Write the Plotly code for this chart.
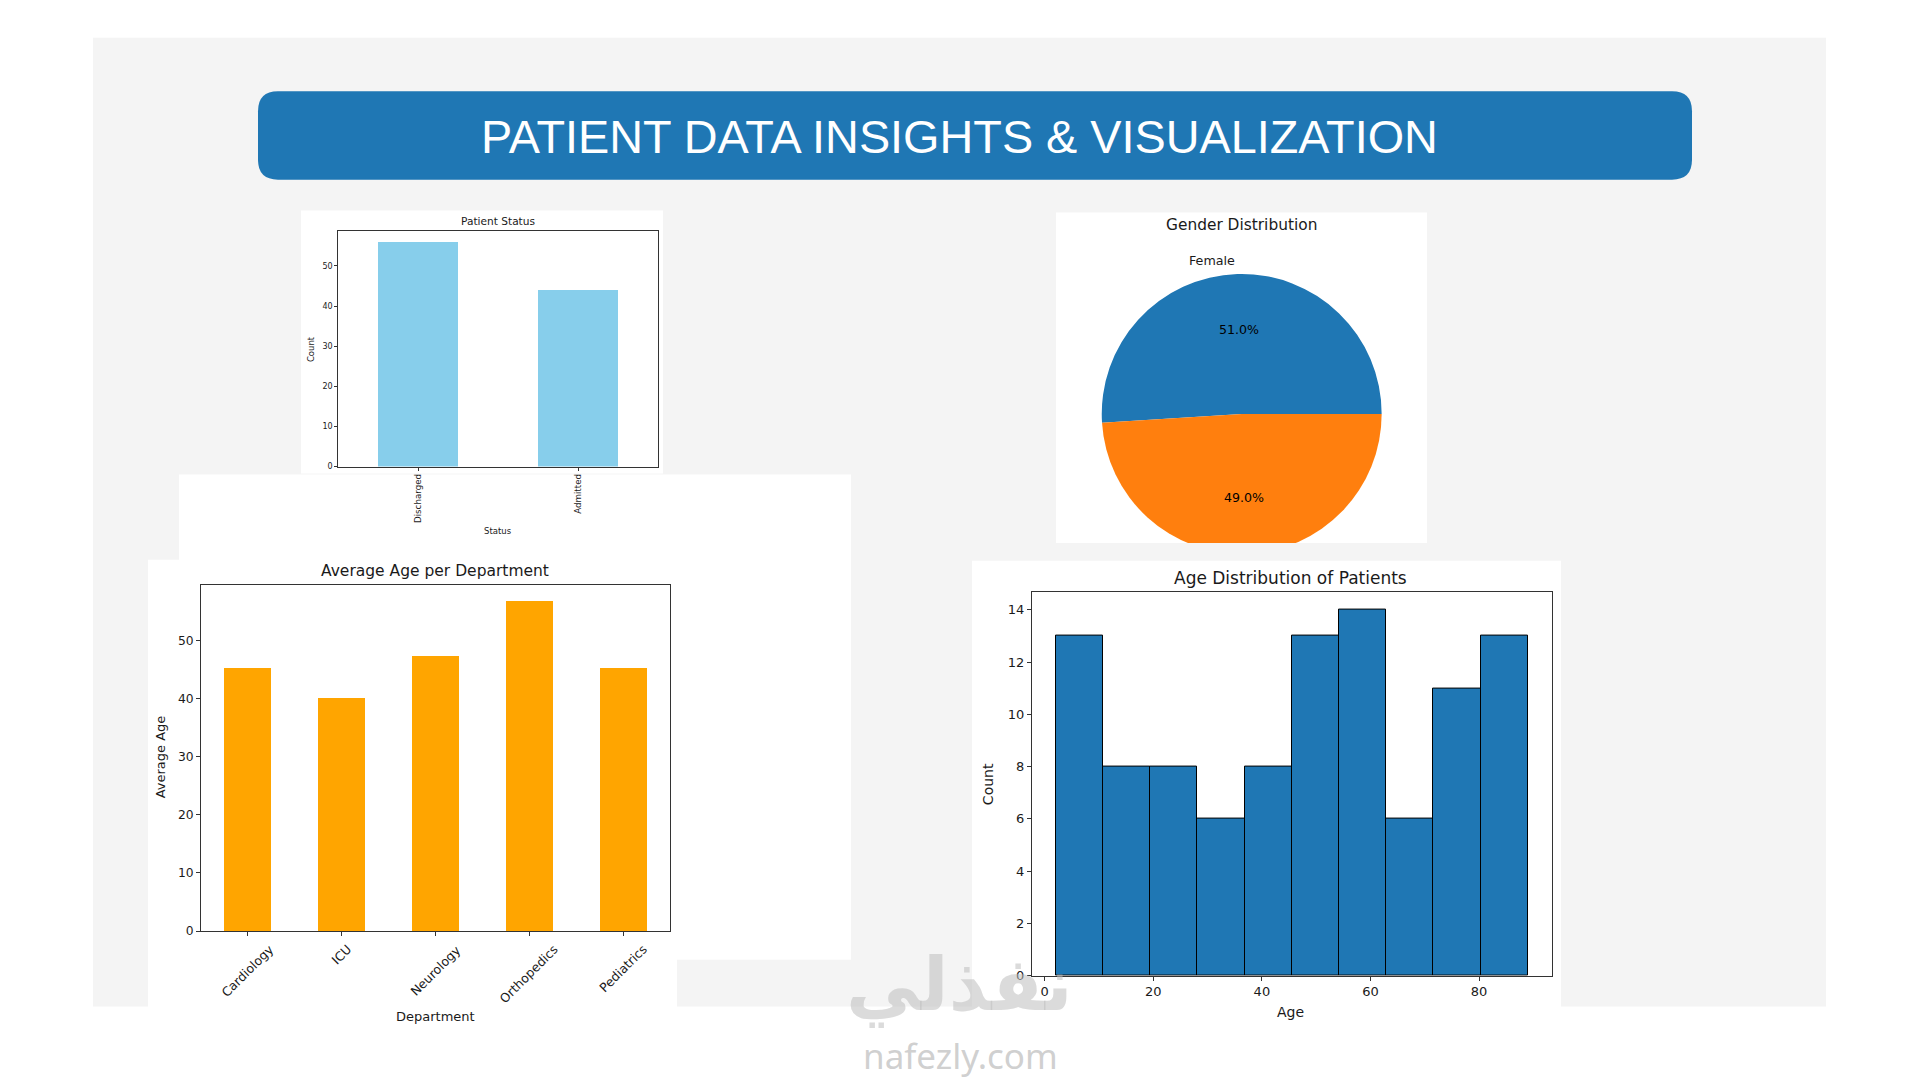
import plotly.graph_objects as go
import math

W, H = 1920, 1080

# ---------------- data ----------------
status_categories = ["Discharged", "Admitted"]
status_counts = [56, 44]
status_yticks = [0, 10, 20, 30, 40, 50]

departments = ["Cardiology", "ICU", "Neurology", "Orthopedics", "Pediatrics"]
avg_age = [45.4, 40.1, 47.4, 56.8, 45.4]
avg_yticks = [0, 10, 20, 30, 40, 50]

gender_labels = ["Female", "Male"]
gender_share = [51.0, 49.0]

age_bin_edges = [2.0, 10.7, 19.4, 28.1, 36.8, 45.5, 54.2, 62.9, 71.6, 80.3, 89.0]
age_counts = [13, 8, 8, 6, 8, 13, 14, 6, 11, 13]
age_xticks = [0, 20, 40, 60, 80]
age_yticks = [0, 2, 4, 6, 8, 10, 12, 14]

TITLE = "PATIENT DATA INSIGHTS & VISUALIZATION"

# ---------------- helpers ----------------
def px(x):
    return x / W

def py(y):
    return 1 - y / H

MPL = "DejaVu Sans"
AX = "#333333"
TXT = "#1a1a1a"
PANEL = "#f4f4f4"
BLUE = "#1f77b4"

fig = go.Figure()

# Patient status bars
fig.add_trace(go.Bar(x=status_categories, y=status_counts, width=0.5,
                     marker=dict(color="#87CEEB", line=dict(width=0)),
                     xaxis="x", yaxis="y", hoverinfo="skip"))
# Average age bars
fig.add_trace(go.Bar(x=departments, y=avg_age, width=0.5,
                     marker=dict(color="#FFA500", line=dict(width=0)),
                     xaxis="x2", yaxis="y2", hoverinfo="skip"))
# Histogram bars
centers = [(a + b) / 2 for a, b in zip(age_bin_edges[:-1], age_bin_edges[1:])]
widths = [b - a for a, b in zip(age_bin_edges[:-1], age_bin_edges[1:])]
fig.add_trace(go.Bar(x=centers, y=age_counts, width=widths,
                     marker=dict(color=BLUE, line=dict(color="#000000", width=1)),
                     xaxis="x3", yaxis="y3", hoverinfo="skip"))

# Pie (matplotlib style: first wedge starts at 3 o'clock, counter-clockwise)
PIE_CX, PIE_CY, PIE_R = 1241.7, 417.0, 141.0
total = sum(gender_share)
pie_rotation = 90 - 360 * gender_share[0] / total
fig.add_trace(go.Pie(labels=gender_labels, values=gender_share, sort=False,
                     direction="counterclockwise", rotation=pie_rotation,
                     marker=dict(colors=[BLUE, "#ff7f0e"], line=dict(width=0)),
                     textinfo="none", hoverinfo="skip", showlegend=False,
                     domain=dict(x=[px(PIE_CX - PIE_R), px(PIE_CX + PIE_R)],
                                 y=[py(PIE_CY + PIE_R), py(PIE_CY - PIE_R)])))


def axis(domain, rng, fs, ticklen, **kw):
    d = dict(domain=domain, range=rng, showline=True, mirror=True,
             linecolor=AX, linewidth=1, ticks="outside", ticklen=ticklen,
             tickcolor=AX, tickwidth=1, showgrid=False, zeroline=False,
             tickfont=dict(family=MPL, size=fs, color=TXT), fixedrange=True)
    d.update(kw)
    return d

shapes = []
def rect(x0, y0, x1, y1, color, layer="below"):
    shapes.append(dict(type="rect", xref="paper", yref="paper",
                       x0=px(x0), x1=px(x1), y0=py(y1), y1=py(y0),
                       fillcolor=color, line=dict(width=0), layer=layer))

# background panel and cards
rect(93, 38, 1826, 1014, PANEL)
rect(179, 478, 851, 967, "white")
rect(301, 212, 663, 477, "white")
rect(148, 564, 677, 1040, "white")
rect(1056, 214, 1427, 547, "white")
rect(972, 565, 1561, 1040, "white")
# clip pie bottom at card edge
rect(1090, 547, 1400, 564, PANEL, layer="above")

# rounded title bar
x0, x1, y0, y1, r = 258, 1692, 92, 181, 20
def P(x, y):
    return f"{px(x):.6f},{py(y):.6f}"
path = (f"M {P(x0 + r, y0)} L {P(x1 - r, y0)} Q {P(x1, y0)} {P(x1, y0 + r)} "
        f"L {P(x1, y1 - r)} Q {P(x1, y1)} {P(x1 - r, y1)} "
        f"L {P(x0 + r, y1)} Q {P(x0, y1)} {P(x0, y1 - r)} "
        f"L {P(x0, y0 + r)} Q {P(x0, y0)} {P(x0 + r, y0)} Z")
shapes.append(dict(type="path", xref="paper", yref="paper", path=path,
                   fillcolor=BLUE, line=dict(width=0), layer="below"))

annotations = []
def text(x, y, s, size, family=MPL, color=TXT, angle=0, xa="center", ya="middle",
         xref="paper", weight="normal"):
    annotations.append(dict(x=px(x) if xref == "paper" else x, y=py(y), xref=xref, yref="paper",
                            text=s, showarrow=False, textangle=angle,
                            xanchor=xa, yanchor=ya,
                            font=dict(family=family, size=size, color=color, weight=weight)))

text(959.4, 138, TITLE, 46.8, family="Liberation Sans", color="white")

# Patient status texts
text(497.7, 222.7, "Patient Status", 10.6)
text(311, 351.7, "Count", 8.5, angle=-90)
text(498, 535, "Status", 8.5)

# Avg age texts
text(435, 575, "Average Age per Department", 15.5)
text(160, 763, "Average Age", 13, angle=-90)
text(435, 1024, "Department", 13)
for d in departments:
    text(d, 946, d, 12.5, angle=-45, ya="top", xref="x2")

# Histogram texts
text(1290.7, 582, "Age Distribution of Patients", 17)
text(988, 790, "Count", 14, angle=-90)
text(1290.7, 1020, "Age", 14)

# Pie texts
text(1241.7, 227, "Gender Distribution", 15.4)
cum = 0.0
for lab, v in zip(gender_labels, gender_share):
    mid = math.radians((cum + v / 2) / total * 360)
    cum += v
    tx = PIE_CX + 0.6 * PIE_R * math.cos(mid)
    ty = PIE_CY - 0.6 * PIE_R * math.sin(mid)
    text(tx, ty, f"{v / total * 100:.1f}%", 12.6, color="#000000")
    lx = PIE_CX + 1.1 * PIE_R * math.cos(mid)
    ly = PIE_CY - 1.1 * PIE_R * math.sin(mid)
    if ly < 540:
        text(lx, ly, lab, 12.7, xa="right" if math.cos(mid) < 0 else "left")

# watermark
text(959, 992, "نفذلي", 74, family="DejaVu Sans", color="rgba(190,190,190,0.55)", weight="bold")
text(960, 1063, "nafezly.com", 35, family="Noto Sans", color="rgba(195,195,195,0.8)")

fig.update_layout(
    width=W, height=H, margin=dict(l=0, r=0, t=0, b=0),
    paper_bgcolor="white", plot_bgcolor="white", showlegend=False,
    bargap=0,
    xaxis=axis([px(338.3), px(658.3)], [-0.5, 1.5], 8.7, 3, tickangle=-90, anchor="y"),
    yaxis=axis([py(470), py(232.3)], [0, 58.8], 8, 3, tickvals=status_yticks, anchor="x"),
    xaxis2=axis([px(201), px(670)], [-0.5, 4.5], 12.5, 4, showticklabels=False, anchor="y2"),
    yaxis2=axis([py(938), py(589)], [0, 59.6], 12.3, 4, tickvals=avg_yticks, anchor="x2"),
    xaxis3=axis([px(1032), px(1551.5)], [-2.35, 93.35], 13, 4, tickvals=age_xticks, anchor="y3"),
    yaxis3=axis([py(983), py(596)], [0, 14.7], 13, 4, tickvals=age_yticks, anchor="x3"),
    shapes=shapes, annotations=annotations,
)

fig.write_html("out.html", config={"displayModeBar": False},
               post_script="document.body.style.margin='0';document.body.style.overflow='hidden';")
